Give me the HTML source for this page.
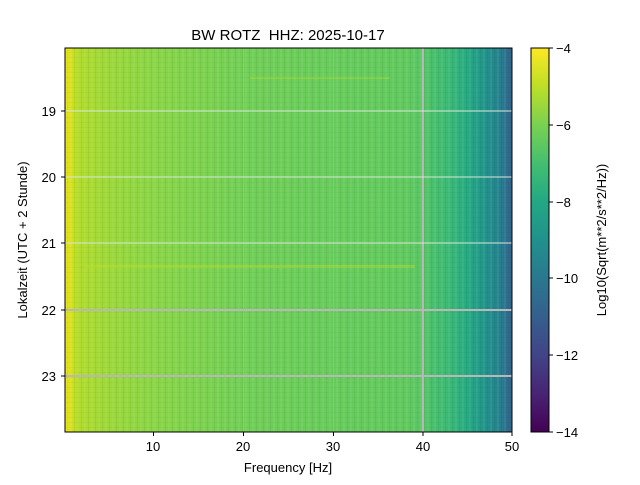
<!DOCTYPE html>
<html><head><meta charset="utf-8"><style>
body{margin:0;background:#fff;}
svg text{font-family:"Liberation Sans","DejaVu Sans",sans-serif;fill:#000;}
</style></head><body>
<svg width="640" height="480" xmlns="http://www.w3.org/2000/svg">
<defs>
<linearGradient id="sp" x1="65" x2="512" y1="0" y2="0" gradientUnits="userSpaceOnUse">
<stop offset="0" stop-color="#f2e51d"/>
<stop offset="0.012" stop-color="#d8e21f"/>
<stop offset="0.03" stop-color="#b2dd2d"/>
<stop offset="0.1" stop-color="#9cd93b"/>
<stop offset="0.2" stop-color="#8ad647"/>
<stop offset="0.4" stop-color="#72cf57"/>
<stop offset="0.6" stop-color="#68cc5c"/>
<stop offset="0.76" stop-color="#62ca5f"/>
<stop offset="0.8" stop-color="#5ac864"/>
<stop offset="0.82" stop-color="#4ac16d"/>
<stop offset="0.86" stop-color="#3bba76"/>
<stop offset="0.9" stop-color="#27ab82"/>
<stop offset="0.94" stop-color="#21948b"/>
<stop offset="0.97" stop-color="#25838e"/>
<stop offset="1" stop-color="#33638d"/>
</linearGradient>
<linearGradient id="cb" x1="0" x2="0" y1="48" y2="432" gradientUnits="userSpaceOnUse">
<stop offset="0" stop-color="#fde725"/>
<stop offset="0.1" stop-color="#bddf26"/>
<stop offset="0.2" stop-color="#7ad151"/>
<stop offset="0.3" stop-color="#44bf70"/>
<stop offset="0.4" stop-color="#22a884"/>
<stop offset="0.5" stop-color="#21918c"/>
<stop offset="0.6" stop-color="#2a788e"/>
<stop offset="0.7" stop-color="#355f8d"/>
<stop offset="0.8" stop-color="#414487"/>
<stop offset="0.9" stop-color="#482475"/>
<stop offset="1" stop-color="#440154"/>
</linearGradient>
<pattern id="tex" width="7" height="5" patternUnits="userSpaceOnUse">
<rect x="0" y="0" width="2" height="5" fill="#fff" opacity="0.06"/>
<rect x="4" y="0" width="1" height="5" fill="#000" opacity="0.05"/>
<rect x="0" y="2" width="7" height="1" fill="#000" opacity="0.03"/>
</pattern>
</defs>
<text x="288" y="40" font-size="15" text-anchor="middle" xml:space="preserve">BW ROTZ  HHZ: 2025-10-17</text>
<rect x="65" y="48" width="447" height="384" fill="url(#sp)"/>
<rect x="65" y="48" width="447" height="384" fill="url(#tex)"/>
<rect x="250" y="77" width="140" height="2" fill="#c8e020" opacity="0.3"/>
<rect x="85" y="265" width="330" height="3" fill="#c8e020" opacity="0.35"/>
<g stroke="#b8b8b8" stroke-width="1">
<line x1="153.5" y1="48" x2="153.5" y2="432" stroke-opacity="0.6"/>
<line x1="243.5" y1="48" x2="243.5" y2="432" stroke-opacity="0.6"/>
<line x1="333.5" y1="48" x2="333.5" y2="432" stroke-opacity="0.6"/>
<line x1="423" y1="48" x2="423" y2="432" stroke-width="2"/>
<line x1="65" y1="111" x2="512" y2="111" stroke="#d8e8d8"/>
<line x1="65" y1="177" x2="512" y2="177" stroke="#d8e8d8"/>
<line x1="65" y1="243" x2="512" y2="243" stroke="#d8e8d8"/>
<line x1="65" y1="310" x2="512" y2="310" stroke-width="2"/>
<line x1="65" y1="376" x2="512" y2="376" stroke-width="2"/>
</g>
<rect x="65" y="48" width="447" height="384" fill="none" stroke="#000" stroke-width="1"/>
<g stroke="#000">
<line x1="153.5" y1="432" x2="153.5" y2="436"/>
<line x1="243.5" y1="432" x2="243.5" y2="436"/>
<line x1="333.5" y1="432" x2="333.5" y2="436"/>
<line x1="423" y1="432" x2="423" y2="436"/>
<line x1="512" y1="432" x2="512" y2="436"/>
<line x1="61" y1="111" x2="65" y2="111"/>
<line x1="61" y1="177" x2="65" y2="177"/>
<line x1="61" y1="243" x2="65" y2="243"/>
<line x1="61" y1="310" x2="65" y2="310"/>
<line x1="61" y1="376" x2="65" y2="376"/>
</g>
<g font-size="13" text-anchor="middle">
<text x="153" y="451">10</text><text x="243" y="451">20</text><text x="333" y="451">30</text><text x="423" y="451">40</text><text x="512" y="451">50</text>
</g>
<g font-size="13" text-anchor="end">
<text x="56" y="116">19</text><text x="56" y="182">20</text><text x="56" y="248">21</text><text x="56" y="315">22</text><text x="56" y="381">23</text>
</g>
<text x="288" y="472" font-size="13" text-anchor="middle">Frequency [Hz]</text>
<text transform="translate(27,240) rotate(-90)" font-size="13" text-anchor="middle">Lokalzeit (UTC + 2 Stunde)</text>
<rect x="531" y="48" width="18" height="384" fill="url(#cb)" stroke="#000" stroke-width="1"/>
<g stroke="#000">
<line x1="549" y1="48" x2="553" y2="48"/><line x1="549" y1="125" x2="553" y2="125"/>
<line x1="549" y1="202" x2="553" y2="202"/><line x1="549" y1="278" x2="553" y2="278"/>
<line x1="549" y1="355" x2="553" y2="355"/><line x1="549" y1="432" x2="553" y2="432"/>
</g>
<g font-size="13">
<text x="556" y="53">−4</text><text x="556" y="130">−6</text><text x="556" y="207">−8</text>
<text x="556" y="283">−10</text><text x="556" y="360">−12</text><text x="556" y="437">−14</text>
</g>
<text transform="translate(606,240) rotate(-90)" font-size="13" text-anchor="middle">Log10(Sqrt(m**2/s**2/Hz))</text>
</svg>
</body></html>
